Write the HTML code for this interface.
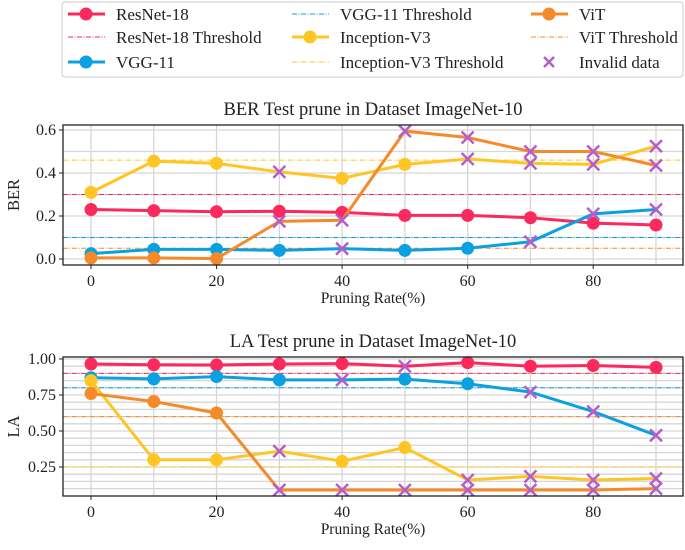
<!DOCTYPE html>
<html><head><meta charset="utf-8"><style>
body{margin:0;background:#fff}
svg text{font-family:"Liberation Serif",serif;fill:#222}
</style></head><body>
<svg id="chart" width="685" height="545" xmlns="http://www.w3.org/2000/svg"></svg>
<script>
const xs = [0,10,20,30,40,50,60,70,80,90];
const berResNet = [0.23,0.225,0.22,0.222,0.217,0.203,0.203,0.192,0.167,0.158];
const berVGG = [0.025,0.045,0.045,0.04,0.048,0.04,0.05,0.08,0.21,0.23];
const berIncep = [0.31,0.455,0.445,0.405,0.375,0.44,0.465,0.445,0.44,0.525];
const berViT = [0.005,0.005,0.002,0.175,0.18,0.595,0.565,0.5,0.5,0.435];
const berThresh = [0.3,0.1,0.46,0.05];
const berInvalid = [[],[40,70,80,90],[30,60,70,80,90],[30,40,50,60,70,80,90]];
const laResNet = [0.965,0.96,0.958,0.965,0.968,0.95,0.975,0.95,0.955,0.942];
const laVGG = [0.87,0.862,0.878,0.855,0.855,0.86,0.828,0.77,0.635,0.47];
const laIncep = [0.85,0.3,0.3,0.36,0.29,0.385,0.16,0.185,0.16,0.17];
const laViT = [0.76,0.705,0.625,0.09,0.09,0.09,0.09,0.09,0.09,0.1];
const laThresh = [0.9,0.8,0.25,0.6];
const laInvalid = [[50],[40,70,80,90],[30,60,70,80,90],[30,40,50,60,70,80,90]];
const xTicks = [0,20,40,60,80];
const berTicks = [0.0,0.2,0.4,0.6];
const laTicks = [0.25,0.5,0.75,1.0];
const names = ["ResNet-18","VGG-11","Inception-V3","ViT"];
const colors = ["#fa2a5c","#0ba0e0","#ffc524","#f58a2b"];
const INV = "#b35ec9";

const svg = document.getElementById('chart');
const NS = "http://www.w3.org/2000/svg";
function el(tag, attrs, parent){const e=document.createElementNS(NS,tag);for(const k in attrs)e.setAttribute(k,attrs[k]);(parent||svg).appendChild(e);return e;}
function xAxis(v){return 91 + v*(656-91)/90;}

function panel(cfg){
  const g = el('g',{});
  
  
  const y = v => cfg.y0px + (v - cfg.v0)*(cfg.y1px - cfg.y0px)/(cfg.v1 - cfg.v0);
  for (let v=cfg.gmin; v<=cfg.gmax+1e-9; v+=cfg.gstep){
    const l = el('line',{x1:63,x2:683,y1:y(v),y2:y(v),stroke:'#d6d6d6','stroke-width':1.3},g);
    
    
  }
  for (let v=0; v<=90; v+=10){
    const l = el('line',{x1:xAxis(v),x2:xAxis(v),y1:cfg.top,y2:cfg.bot,stroke:'#d6d6d6','stroke-width':1.3},g);
    
    
  }
  cfg.thresh.forEach((t,i)=>{
    const l = el('line',{x1:63,x2:683,y1:y(t),y2:y(t),stroke:colors[i],'stroke-width':1,'stroke-dasharray':'5,1.5,1,1.5'},g);
    
    
  });
  cfg.series.forEach((s,i)=>{
    const pts = s.map((v,k)=>xAxis(xs[k])+','+y(v)).join(' ');
    const pl = el('polyline',{points:pts,fill:'none',stroke:colors[i],'stroke-width':3},g);
    
    
    s.forEach((v,k)=>{
      if (cfg.invalid[i].includes(xs[k])){
        const d=6;
        const p = el('path',{d:`M${xAxis(xs[k])-d},${y(v)-d}L${xAxis(xs[k])+d},${y(v)+d}M${xAxis(xs[k])-d},${y(v)+d}L${xAxis(xs[k])+d},${y(v)-d}`,stroke:INV,'stroke-width':2.5},g);
        
        
      } else {
        const c = el('circle',{cx:xAxis(xs[k]),cy:y(v),r:6.5,fill:colors[i]},g);
        
        
      }
    });
  });
  const fr = el('rect',{x:63,y:cfg.top,width:620,height:cfg.bot-cfg.top,fill:'none',stroke:'#222','stroke-width':1.3},g);
  
  
  xTicks.forEach(v=>{
    el('line',{x1:xAxis(v),x2:xAxis(v),y1:cfg.bot,y2:cfg.bot+4,stroke:'#222'},g);
    const t = el('text',{x:xAxis(v),y:cfg.bot+21,'text-anchor':'middle','font-size':16},g);
    t.textContent = v;
    
    
  });
  cfg.ticks.forEach(v=>{
    el('line',{x1:59,x2:63,y1:y(v),y2:y(v),stroke:'#222'},g);
    const t = el('text',{x:56,y:y(v)+5,'text-anchor':'end','font-size':16},g);
    t.textContent = v.toFixed(cfg.dec);
    
    
  });
  const xl = el('text',{x:373,y:cfg.bot+38,'text-anchor':'middle','font-size':15.5},g);
  xl.textContent = 'Pruning Rate(%)';
  
  
  const yl = el('text',{x:0,y:0,'text-anchor':'middle','font-size':16.5,transform:`translate(19,${(cfg.top+cfg.bot)/2}) rotate(-90)`},g);
  yl.textContent = cfg.ylabel;
  
  
  const ti = el('text',{x:373,y:cfg.top-10,'text-anchor':'middle','font-size':18.5},g);
  ti.textContent = cfg.title;
  
  
}

panel({name:'ber-panel',top:125,bot:265,v0:0,v1:0.6,y0px:259,y1px:130,gmin:0,gmax:0.6,gstep:0.1,
  thresh:berThresh,series:[berResNet,berVGG,berIncep,berViT],invalid:berInvalid,ticks:berTicks,dec:1,
  ylabel:'BER',title:'BER Test prune in Dataset ImageNet-10'});
panel({name:'la-panel',top:357,bot:496,v0:0.25,v1:1.0,y0px:467,y1px:359,gmin:0.1,gmax:1.0,gstep:0.05,
  thresh:laThresh,series:[laResNet,laVGG,laIncep,laViT],invalid:laInvalid,ticks:laTicks,dec:2,
  ylabel:'LA',title:'LA Test prune in Dataset ImageNet-10'});

const lg = el('g',{});


el('rect',{x:62,y:2,width:621,height:75,rx:3,fill:'#fff',stroke:'#ccc','stroke-width':1},lg);
const entries = [
  ['ResNet-18',0,'line'],['ResNet-18 Threshold',0,'th'],['VGG-11',1,'line'],
  ['VGG-11 Threshold',1,'th'],['Inception-V3',2,'line'],['Inception-V3 Threshold',2,'th'],
  ['ViT',3,'line'],['ViT Threshold',3,'th'],['Invalid data',-1,'x']];
const colX = [[68,116],[292,340],[531,579]];
const rowY = [14,37,62];
entries.forEach((e,i)=>{
  const c = Math.floor(i/3), r = i%3;
  const g = el('g',{},lg);
  
  
  const x0 = colX[c][0], yy = rowY[r];
  if (e[2]==='line'){
    el('line',{x1:x0,x2:x0+37,y1:yy,y2:yy,stroke:colors[e[1]],'stroke-width':3},g);
    el('circle',{cx:x0+18,cy:yy,r:6.5,fill:colors[e[1]]},g);
  } else if (e[2]==='th'){
    el('line',{x1:x0,x2:x0+37,y1:yy,y2:yy,stroke:colors[e[1]],'stroke-width':1,'stroke-dasharray':'5,1.5,1,1.5'},g);
  } else {
    const cx=x0+18;
    el('path',{d:`M${cx-5},${yy-5}L${cx+5},${yy+5}M${cx-5},${yy+5}L${cx+5},${yy-5}`,stroke:INV,'stroke-width':2.5},g);
  }
  const t = el('text',{x:colX[c][1],y:yy+6,'font-size':17},g);
  t.textContent = e[0];
});
</script>
</body></html>
